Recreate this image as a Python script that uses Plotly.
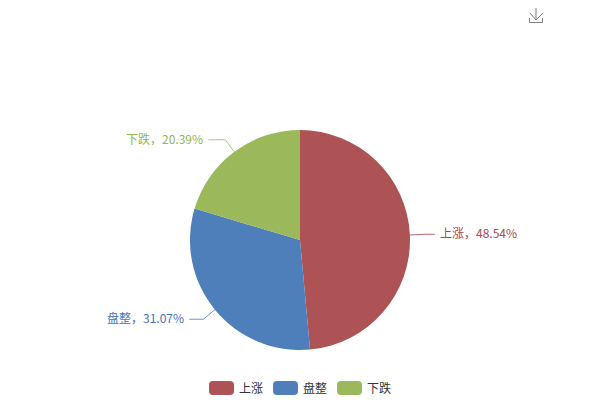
import math
import plotly.graph_objects as go

categories = ["上涨", "盘整", "下跌"]
counts = [50, 32, 21]
colors = ["#AD5255", "#4F7FBB", "#9BB95A"]
label_colors = ["#A8484C", "#3F72B4", "#93B550"]
line_colors = ["#B5696C", "#6D95C8", "#ADC67A"]
leader_tail = [10, 14, 17]
FULLWIDTH_COMMA = "\uff0c"

W, H = 600, 400
CX, CY, R = 300, 240, 110
ELBOW_R = 125
FONT = "Noto Sans CJK SC, sans-serif"


def px(x):
    return x / W


def py(y):
    return 1 - y / H


fig = go.Figure(
    go.Pie(
        labels=categories,
        values=counts,
        sort=False,
        direction="clockwise",
        rotation=0,
        textinfo="none",
        hoverinfo="label+percent",
        marker=dict(colors=colors, line=dict(width=0)),
        domain=dict(x=[px(CX - R), px(CX + R)], y=[py(CY + R), py(CY - R)]),
        showlegend=False,
    )
)

shapes = []
annotations = []
total = sum(counts)
cum = 0
for cat, val, lc, tc, tail in zip(categories, counts, line_colors, label_colors, leader_tail):
    mid = (cum + val / 2) / total * 2 * math.pi
    cum += val
    sx, cy = math.sin(mid), math.cos(mid)
    x0, y0 = CX + R * sx, CY - R * cy
    x1, y1 = CX + ELBOW_R * sx, CY - ELBOW_R * cy
    side = 1 if sx >= 0 else -1
    x2 = x1 + side * tail
    shapes.append(
        dict(
            type="path",
            xref="paper",
            yref="paper",
            path=f"M{px(x0)},{py(y0)} L{px(x1)},{py(y1)} L{px(x2)},{py(y1)}",
            line=dict(color=lc, width=1),
        )
    )
    annotations.append(
        dict(
            xref="paper",
            yref="paper",
            x=px(x2 + side * 3),
            y=py(y1 - 1.5),
            xanchor="left" if side > 0 else "right",
            yanchor="middle",
            text=f"{cat}{FULLWIDTH_COMMA}{val / total * 100:.2f}%",
            showarrow=False,
            font=dict(family=FONT, size=12, color=tc),
        )
    )

# Legend
legend_left = 209
legend_step = 64
pill_w, pill_h, rad = 25, 14, 4
top = 381
for i, (cat, col) in enumerate(zip(categories, colors)):
    l = legend_left + i * legend_step
    r_ = l + pill_w
    b = top + pill_h
    p = (
        f"M{px(l + rad)},{py(top)} L{px(r_ - rad)},{py(top)} "
        f"Q{px(r_)},{py(top)} {px(r_)},{py(top + rad)} L{px(r_)},{py(b - rad)} "
        f"Q{px(r_)},{py(b)} {px(r_ - rad)},{py(b)} L{px(l + rad)},{py(b)} "
        f"Q{px(l)},{py(b)} {px(l)},{py(b - rad)} L{px(l)},{py(top + rad)} "
        f"Q{px(l)},{py(top)} {px(l + rad)},{py(top)} Z"
    )
    shapes.append(dict(type="path", xref="paper", yref="paper", path=p, fillcolor=col, line=dict(width=0)))
    annotations.append(
        dict(
            xref="paper",
            yref="paper",
            x=px(r_ + 3),
            y=py(top + pill_h / 2 - 1),
            xanchor="left",
            yanchor="middle",
            text=cat,
            showarrow=False,
            font=dict(family=FONT, size=12, color="#333333"),
        )
    )

# Download icon
icon = [
    [(536, 8), (536, 20)],
    [(530, 13), (536, 20), (543, 13)],
    [(529.5, 18), (529.5, 22.5), (542.5, 22.5), (542.5, 18)],
]
for pts in icon:
    d = "M" + " L".join(f"{px(a)},{py(b)}" for a, b in pts)
    shapes.append(dict(type="path", xref="paper", yref="paper", path=d, line=dict(color="#808080", width=1)))

fig.update_layout(
    width=W,
    height=H,
    margin=dict(l=0, r=0, t=0, b=0),
    paper_bgcolor="#FFFFFF",
    plot_bgcolor="#FFFFFF",
    shapes=shapes,
    annotations=annotations,
    showlegend=False,
)
fig.write_html(
    "out.html",
    config=dict(displayModeBar=False),
    post_script="document.body.style.margin='0';document.body.style.overflow='hidden';",
)
